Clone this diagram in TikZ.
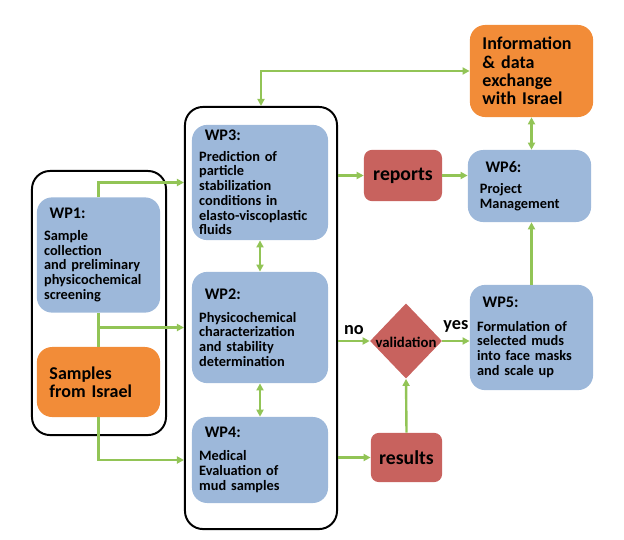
\documentclass[tikz,border=0pt]{standalone}
\usepackage{fontspec}
\setmainfont{Carlito}
\usepackage{tikz}
\usetikzlibrary{positioning,arrows.meta,calc,shapes.geometric}
\definecolor{wpblue}{RGB}{157,184,218}
\definecolor{isorange}{RGB}{242,140,56}
\definecolor{outred}{RGB}{200,98,94}
\definecolor{flowgreen}{RGB}{146,196,86}

\begin{document}
\begin{tikzpicture}[x=0.025cm, y=-0.025cm,
    group/.style={draw, line width=1.4pt, rounded corners=0.45cm, inner sep=0},
    wpbox/.style={fill=wpblue, rounded corners=0.38cm, minimum width=3.08cm, text width=2.72cm, align=left, inner xsep=0.18cm, font=\bfseries\fontsize{10.2}{10.5}\selectfont},
    widebox/.style={wpbox, minimum width=3.4cm, text width=3.04cm},
    srcbox/.style={fill=isorange, rounded corners=0.38cm, minimum width=3.08cm, text width=2.45cm, align=left, font=\bfseries\fontsize{12.8}{13}\selectfont},
    outbox/.style={fill=outred, rounded corners=0.2cm, font=\bfseries\fontsize{14}{15}\selectfont},
    decision/.style={diamond, fill=outred, inner sep=0, minimum width=1.8cm, minimum height=1.88cm},
    flow/.style={draw=flowgreen, line width=1.7pt, -{Triangle[length=5pt,width=5pt]}},
    flow2/.style={flow, {Triangle[length=5pt,width=5pt]}-{Triangle[length=5pt,width=5pt]}},
    lbl/.style={font=\bfseries\fontsize{13}{13}\selectfont, text=black}
  ]
  \useasboundingbox (0,0) rectangle (624,539);

  % outlines of the two groups
  \node[group, minimum width=3.35cm, minimum height=6.6cm] (grpL) at (99,303) {};
  \node[group, minimum width=3.8cm, minimum height=10.55cm] (grpM) at (261,318) {};

  % left column
  \node[wpbox, minimum height=2.88cm] (wp1) at (98.5,255)
    {\hspace{4pt}{\fontsize{11.5}{11}\selectfont WP1:}\\[5pt] Sample\\collection\\and preliminary\\physicochemical\\screening};
  \node[srcbox, minimum height=1.75cm] (israel) at (98.5,382) {Samples\\from Israel};

  % middle column
  \node[widebox, minimum height=2.88cm] (wp3) at (260,182.5)
    {\hspace{4pt}{\fontsize{11.5}{11}\selectfont WP3:}\\[4pt] Prediction of\\particle\\stabilization\\conditions in\\elasto-viscoplastic\\fluids};
  \node[widebox, minimum height=2.78cm] (wp2) at (260,327.5)
    {\hspace{4pt}{\fontsize{11.5}{11}\selectfont WP2:}\\[6pt] Physicochemical\\characterization\\and stability\\determination};
  \node[widebox, minimum height=2.15cm] (wp4) at (260,460)
    {\hspace{4pt}{\fontsize{11.5}{11}\selectfont WP4:}\\[6pt] Medical\\Evaluation of\\mud samples};

  % right part
  \node[srcbox, minimum height=2.3cm] (info) at (531.5,71) {Information\\\& data\\exchange\\with Israel};
  \node[wpbox, minimum height=1.8cm, inner xsep=0.3cm, text width=2.48cm] (wp6) at (529.5,186)
    {\hspace{4pt}{\fontsize{11.5}{11}\selectfont WP6:}\\[5pt] Project\\Management};
  \node[outbox, minimum width=1.95cm, minimum height=1.28cm] (reports) at (403,175.5) {reports};
  \node[decision] (valid) at (406,341) {};
  \node[font=\bfseries\fontsize{10.5}{11}\selectfont, inner sep=0] (validlbl) at (406,342) {validation};
  \node[wpbox, minimum height=2.63cm] (wp5) at (531.5,337.5)
    {\hspace{4pt}{\fontsize{11.5}{11}\selectfont WP5:}\\[6pt] Formulation of\\selected muds\\into face masks\\and scale up};
  \node[outbox, minimum width=1.78cm, minimum height=1.23cm] (results) at (406.5,457.5) {results};

  % connectors
  \draw[flow] (wp1.north) |- (grpM.west |- wp3);
  \draw[flowgreen, line width=1.7pt] (israel.north) -- (wp1.south);
  \draw[flow] (israel.north |- wp2) -- (grpM.west |- wp2);
  \draw[flow] (israel.south) |- (grpM.west |- wp4);
  \draw[flow2] (wp3.south) -- (wp2.north);
  \draw[flow2] (wp2.south) -- (wp4.north);
  \draw[flow2] (grpM.north) |- (info.west);
  \draw[flow2] (info.south) -- (info.south |- wp6.north);
  \draw[flow] (grpM.east |- reports) -- (reports.west);
  \draw[flow] (reports.east) -- (wp6.west |- reports);
  \draw[flow] (grpM.east |- valid) -- node[above, lbl] {no} (valid.west);
  \draw[flow] (valid.east) -- node[above=2pt, lbl] {yes} (wp5.west |- valid);
  \draw[flow] (grpM.east |- results) -- (results.west);
  \draw[flow] (results.north) -- (valid.south);
  \draw[flow] (wp5.north) -- (wp5.north |- wp6.south);
\end{tikzpicture}
\end{document}
